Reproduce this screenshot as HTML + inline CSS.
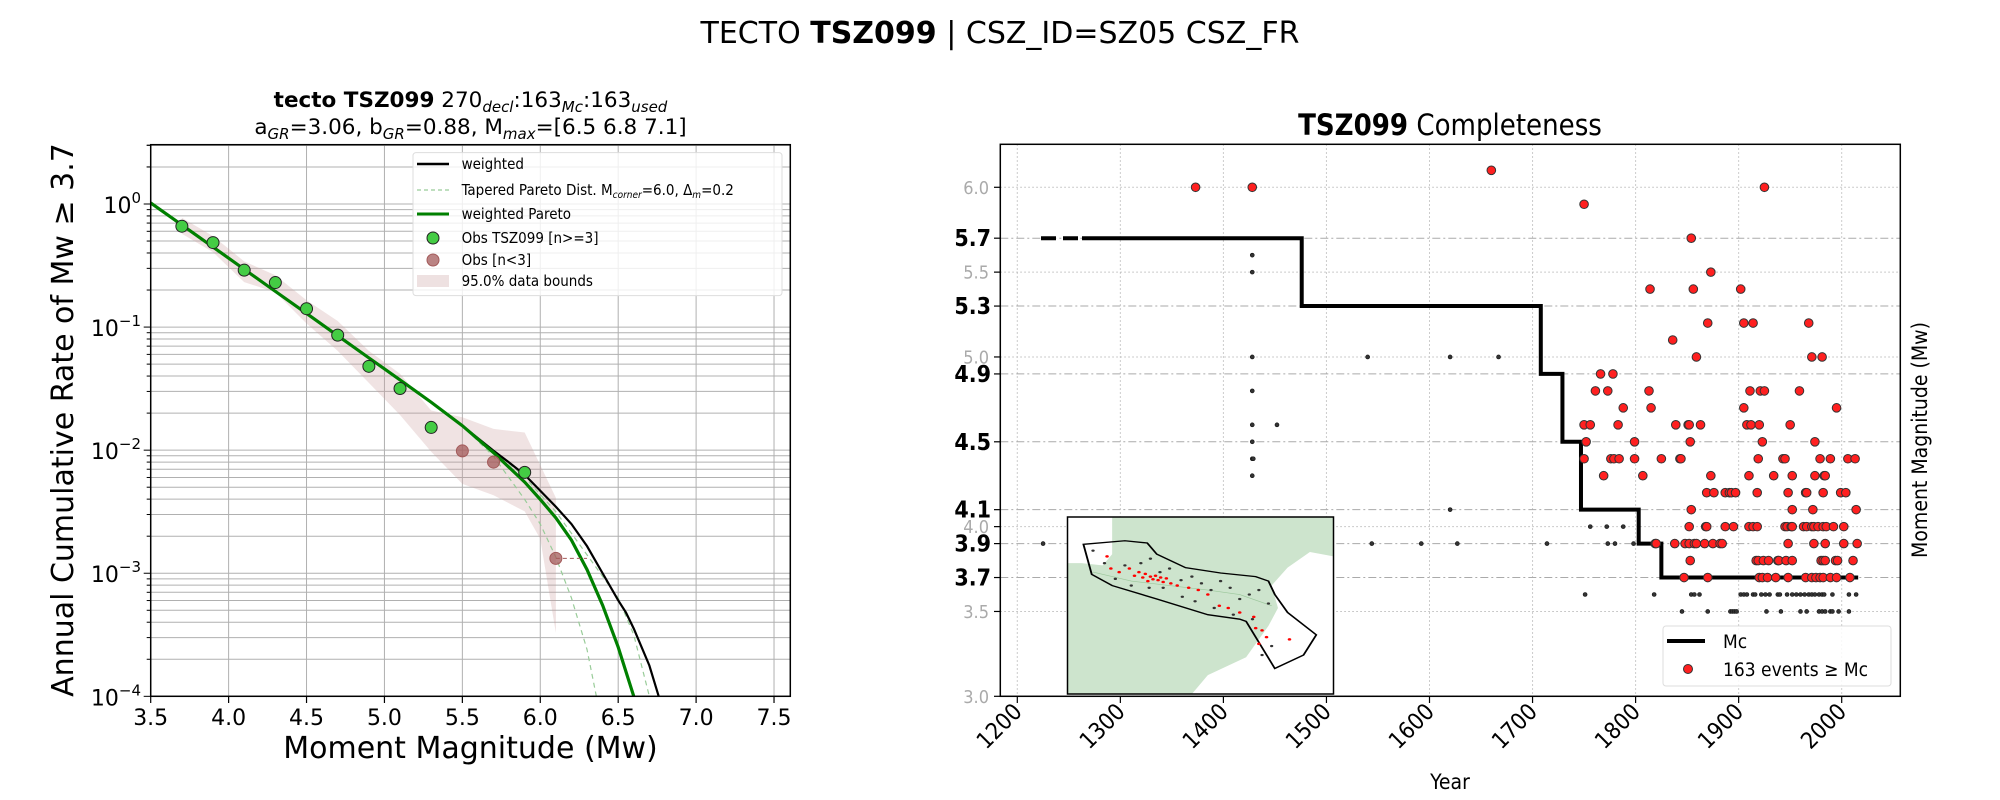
<!DOCTYPE html>
<html>
<head>
<meta charset="utf-8">
<style>
  html,body{margin:0;padding:0;background:#fff;}
  svg{display:block;font-family:"DejaVu Sans","Liberation Sans",sans-serif;}
  .cond{font-family:"DejaVu Sans Condensed","DejaVu Sans","Liberation Sans",sans-serif;}
</style>
</head>
<body>
<svg id="fig" width="2000" height="800" viewBox="0 0 2000 800" xmlns="http://www.w3.org/2000/svg">
  <defs>
    <clipPath id="clipL"><rect x="150.7" y="144.7" width="639.6" height="551.6"/></clipPath>
    <clipPath id="clipR"><rect x="1000.3" y="144.3" width="900" height="552"/></clipPath>
  </defs>
  <rect width="2000" height="800" fill="#fff"/>
  <text x="1000" y="43" font-size="30" text-anchor="middle">TECTO <tspan font-weight="bold">TSZ099</tspan> | CSZ_ID=SZ05 CSZ_FR</text>

  <!-- LEFT CHART -->
  <g id="left">
    <text x="470.5" y="107" font-size="21.5" text-anchor="middle"><tspan font-weight="bold">tecto TSZ099</tspan>  270<tspan font-size="15" font-style="italic" dy="5">decl</tspan><tspan dy="-5">:163</tspan><tspan font-size="15" font-style="italic" dy="5">Mc</tspan><tspan dy="-5">:163</tspan><tspan font-size="15" font-style="italic" dy="5">used</tspan></text>
    <text x="470.5" y="134" font-size="21.5" text-anchor="middle">a<tspan font-size="15" font-style="italic" dy="5">GR</tspan><tspan dy="-5">=3.06,  b</tspan><tspan font-size="15" font-style="italic" dy="5">GR</tspan><tspan dy="-5">=0.88, M</tspan><tspan font-size="15" font-style="italic" dy="5">max</tspan><tspan dy="-5">=[6.5 6.8 7.1]</tspan></text>
    <g id="gridL"></g>
    <g id="plotL" clip-path="url(#clipL)"></g>
    <rect x="150.7" y="144.7" width="639.6" height="551.6" fill="none" stroke="#000" stroke-width="1.5"/>
    <g id="ticksL"></g>
    <text x="470.5" y="758" font-size="30" text-anchor="middle">Moment Magnitude (Mw)</text>
    <text transform="translate(73,420) rotate(-90)" font-size="30" text-anchor="middle">Annual Cumulative Rate of Mw  ≥  3.7</text>
    <g id="legendL" class="cond">
      <rect x="413" y="152.6" width="369" height="143" fill="#fff" fill-opacity="0.8" stroke="#ddd" rx="3"/>
      <line x1="417" y1="164" x2="449" y2="164" stroke="#000" stroke-width="2.5"/>
      <text x="461.6" y="169" font-size="15">weighted</text>
      <line x1="417" y1="190" x2="449" y2="190" stroke="#99cc99" stroke-width="1.2" stroke-dasharray="4,3"/>
      <text x="461.6" y="195" font-size="15">Tapered Pareto Dist. M<tspan font-size="10" font-style="italic" dy="3">corner</tspan><tspan dy="-3">=6.0, Δ</tspan><tspan font-size="10" font-style="italic" dy="3">m</tspan><tspan dy="-3">=0.2</tspan></text>
      <line x1="417" y1="214" x2="449" y2="214" stroke="#008000" stroke-width="3"/>
      <text x="461.6" y="219" font-size="15">weighted Pareto</text>
      <circle cx="433" cy="238" r="6" fill="#44cc44" stroke="#222" stroke-width="1"/>
      <text x="461.6" y="243" font-size="15">Obs TSZ099 [n&gt;=3]</text>
      <circle cx="433" cy="260" r="6" fill="#a35a5a" fill-opacity="0.75" stroke="#a35a5a" stroke-width="1"/>
      <text x="461.6" y="265" font-size="15">Obs [n&lt;3]</text>
      <rect x="417" y="275" width="32" height="12" fill="#c89a9a" fill-opacity="0.3"/>
      <text x="461.6" y="286" font-size="15">95.0% data bounds</text>
    </g>
  </g>

  <!-- RIGHT CHART -->
  <g id="right" class="cond">
    <text x="1450" y="135" font-size="29" text-anchor="middle"><tspan font-weight="bold">TSZ099</tspan> Completeness</text>
    <g id="gridR"></g>
    <g id="plotR" clip-path="url(#clipR)"></g>
    <rect x="1000.3" y="144.3" width="900" height="552" fill="none" stroke="#000" stroke-width="1.5"/>
    <g id="ticksR"></g>
    <text x="1450" y="789" font-size="21" text-anchor="middle">Year</text>
    <text transform="translate(1927,440) rotate(-90)" font-size="21" text-anchor="middle">Moment Magnitude (Mw)</text>
    <g id="inset">
      <svg x="1067.5" y="517" width="266" height="177" viewBox="200 937 417 395" preserveAspectRatio="none">
        <rect x="200" y="937" width="417" height="395" fill="#fff"/>
        <polygon fill="#cde4cd" points="270,937 617,937 617,1025 580,1015 545,1050 520,1090 530,1140 515,1180 480,1250 420,1290 395,1332 200,1332 200,1040 222,1040 255,1045 270,1020"/>
        <polyline fill="none" stroke="#9cc79c" stroke-width="1.5" points="240,1060 300,1080 360,1090 420,1100 470,1110 520,1135"/>
        <polygon fill="none" stroke="#000" stroke-width="3" points="225,998 290,990 325,995 340,1020 385,1050 440,1062 495,1070 515,1080 525,1110 545,1150 590,1200 570,1245 525,1275 480,1170 470,1165 420,1155 340,1120 270,1090 238,1065"/>
        <g id="mapDots"></g>
      </svg>
      <rect x="1067.5" y="517" width="266" height="177" fill="none" stroke="#000" stroke-width="1.5"/>
    </g>
    <g id="legendR">
      <rect x="1663" y="626" width="228" height="60" fill="#fff" fill-opacity="0.85" stroke="#ddd" rx="3"/>
      <line x1="1667" y1="641" x2="1705" y2="641" stroke="#000" stroke-width="4"/>
      <text x="1723" y="648" font-size="19">Mc</text>
      <circle cx="1688" cy="669" r="4.5" fill="#ff2020" stroke="#333" stroke-width="1"/>
      <text x="1723" y="676" font-size="19">163 events  ≥  Mc</text>
    </g>
  </g>

<script>
// ---------- LEFT CHART DATA ----------
const obsMag = [3.7, 3.9, 4.1, 4.3, 4.5, 4.7, 4.9, 5.1, 5.3, 5.9];
const obsRate = [0.66, 0.486, 0.29, 0.23, 0.141, 0.086, 0.048, 0.0317, 0.0153, 0.0066];
const fewMag = [5.5, 5.7, 6.1];
const fewRate = [0.00986, 0.008, 0.00132];
const paretoMag = [3.5, 3.7, 3.9, 4.1, 4.3, 4.5, 4.7, 4.9, 5.1, 5.3, 5.5, 5.7, 5.9, 6.0, 6.1, 6.2, 6.3, 6.4, 6.5, 6.6];
const paretoRate = [1.02, 0.676, 0.447, 0.295, 0.195, 0.129, 0.0851, 0.0562, 0.0372, 0.0245, 0.0158, 0.00955, 0.0055, 0.00398, 0.00282, 0.00186, 0.00107, 0.00055, 0.000251, 0.0001];
const weightedMag = [3.5, 3.7, 3.9, 4.1, 4.3, 4.5, 4.7, 4.9, 5.1, 5.3, 5.5, 5.7, 5.8, 5.9, 6.0, 6.1, 6.2, 6.3, 6.4, 6.5, 6.55, 6.6, 6.7, 6.76];
const weightedRate = [1.02, 0.676, 0.447, 0.295, 0.195, 0.129, 0.0851, 0.0562, 0.0372, 0.0245, 0.0158, 0.00990, 0.00794, 0.00631, 0.00468, 0.00347, 0.00251, 0.00166, 0.001, 0.000603, 0.000479, 0.000355, 0.000178, 0.0001];
const taperAMag = [5.3, 5.5, 5.7, 5.9, 6.0, 6.1, 6.2, 6.3, 6.36];
const taperARate = [0.0245, 0.0158, 0.00891, 0.00398, 0.00251, 0.00135, 0.00063, 0.00024, 0.0001];
const taperBMag = [5.3, 5.5, 5.7, 5.9, 6.1, 6.3, 6.5, 6.6, 6.7];
const taperBRate = [0.0245, 0.0158, 0.0100, 0.00603, 0.00316, 0.00141, 0.00063, 0.000316, 0.0001];
const bandUpMag = [3.7, 3.9, 4.1, 4.3, 4.5, 4.7, 4.9, 5.1, 5.3, 5.5, 5.7, 5.9, 6.1];
const bandUpRate = [0.773, 0.548, 0.342, 0.264, 0.165, 0.112, 0.0641, 0.0418, 0.021, 0.0185, 0.0149, 0.0139, 0.00411];
const bandLoMag = [3.7, 3.9, 4.1, 4.3, 4.5, 4.7, 4.9, 5.1, 5.3, 5.5, 5.7, 5.9, 6.0, 6.1];
const bandLoRate = [0.573, 0.406, 0.232, 0.192, 0.107, 0.0641, 0.0352, 0.0193, 0.0097, 0.00532, 0.0043, 0.00318, 0.0019, 0.000327];
const xTicksL = [3.5, 4.0, 4.5, 5.0, 5.5, 6.0, 6.5, 7.0, 7.5];
const yDecadesL = [0, -1, -2, -3, -4];

// ---------- RIGHT CHART DATA ----------
const mcYears = [1223, 1476, 1708, 1729, 1747, 1803, 1825, 2016];
const mcLevels = [5.7, 5.3, 4.9, 4.5, 4.1, 3.9, 3.7];
const mcTickLabels = ["3.7", "3.9", "4.1", "4.5", "4.9", "5.3", "5.7"];
const minorTickLabels = ["3.0", "3.5", "4.0", "5.0", "5.5", "6.0"];
const yearTicks = [1200, 1300, 1400, 1500, 1600, 1700, 1800, 1900, 2000];
const eventYears = [1373,1428,1660,1925,1750,1854,1873,1814,1856,1902,1870,1905,1914,1968,1836,1859,1971,1981,1766,1778,
 1761,1773,1813,1911,1921,1925,1959,
 1788,1815,1905,1995,
 1750,1756,1783,1839,1851,1852,1863,1908,1912,1920,1950,
 1752,1799,1853,1923,1974,
 1750,1776,1779,1784,1799,1825,1843,1844,1919,1943,1945,1979,1989,2006,2013,
 1769,1807,1873,1910,1934,1952,1974,1983,1984,
 1869,1876,1887,1891,1893,1897,1918,1948,1965,1966,1982,1999,2004,
 1854,1952,1972,2014,
 1852,1868,1869,1887,1895,1910,1914,1918,1945,1947,1951,1952,1963,1966,1971,1973,1977,1982,1985,1992,2002,
 1819,1820,1838,1848,1852,1857,1859,1867,1875,1882,1884,1948,1973,1984,2002,2015,
 1853,1917,1919,1924,1929,1938,1939,1946,1952,1980,1982,1984,1994,1996,2011,
 1847,1870,1920,1923,1928,1936,1948,1965,1971,1975,1979,1982,1989,1995,2008];
const eventMags = [6.0,6.0,6.1,6.0,5.9,5.7,5.5,5.4,5.4,5.4,5.2,5.2,5.2,5.2,5.1,5.0,5.0,5.0,4.9,4.9,
 4.8,4.8,4.8,4.8,4.8,4.8,4.8,
 4.7,4.7,4.7,4.7,
 4.6,4.6,4.6,4.6,4.6,4.6,4.6,4.6,4.6,4.6,4.6,
 4.5,4.5,4.5,4.5,4.5,
 4.4,4.4,4.4,4.4,4.4,4.4,4.4,4.4,4.4,4.4,4.4,4.4,4.4,4.4,4.4,
 4.3,4.3,4.3,4.3,4.3,4.3,4.3,4.3,4.3,
 4.2,4.2,4.2,4.2,4.2,4.2,4.2,4.2,4.2,4.2,4.2,4.2,4.2,
 4.1,4.1,4.1,4.1,
 4.0,4.0,4.0,4.0,4.0,4.0,4.0,4.0,4.0,4.0,4.0,4.0,4.0,4.0,4.0,4.0,4.0,4.0,4.0,4.0,4.0,
 3.9,3.9,3.9,3.9,3.9,3.9,3.9,3.9,3.9,3.9,3.9,3.9,3.9,3.9,3.9,3.9,
 3.8,3.8,3.8,3.8,3.8,3.8,3.8,3.8,3.8,3.8,3.8,3.8,3.8,3.8,3.8,
 3.7,3.7,3.7,3.7,3.7,3.7,3.7,3.7,3.7,3.7,3.7,3.7,3.7,3.7,3.7];
const belowYears = [1428,1428,1428,1428,1428,1428,1428,1429,1428,1452,1540,1620,1667,1620,
 1225,1544,1592,1627,1714,1773,1780,1798,1756,1772,1788,
 1751,1818,1854,1857,1862,1902,1905,1908,1914,1916,1922,1926,1930,1938,1940,1947,1952,1956,1960,1964,1968,1971,1974,1978,1981,1983,1991,2007,2014,
 1845,1870,1892,1894,1896,1898,1927,1941,1960,1966,1978,1981,1984,1989,1991,1997,2007];
const belowMags = [5.6,5.5,5.0,4.8,4.6,4.5,4.4,4.4,4.3,4.6,5.0,5.0,5.0,4.1,
 3.9,3.9,3.9,3.9,3.9,3.9,3.9,3.9,4.0,4.0,4.0,
 3.6,3.6,3.6,3.6,3.6,3.6,3.6,3.6,3.6,3.6,3.6,3.6,3.6,3.6,3.6,3.6,3.6,3.6,3.6,3.6,3.6,3.6,3.6,3.6,3.6,3.6,3.6,3.6,3.6,
 3.5,3.5,3.5,3.5,3.5,3.5,3.5,3.5,3.5,3.5,3.5,3.5,3.5,3.5,3.5,3.5,3.5];

const mapRedX = [262,268,281,297,305,312,318,322,326,330,334,338,342,346,350,355,362,372,390,405,420,438,452,470,492,505,512,495,500,548];
const mapRedY = [1025,1052,1060,1052,1068,1060,1072,1064,1080,1070,1076,1068,1078,1072,1082,1074,1085,1090,1095,1100,1110,1135,1140,1150,1160,1190,1205,1185,1220,1210];
const mapBlackX = [240,258,275,290,300,315,328,345,360,378,395,410,425,440,455,470,485,500,515,520,380,400,430,460,490,505,350,330];
const mapBlackY = [1012,1040,1075,1045,1090,1040,1095,1060,1052,1078,1070,1085,1100,1080,1095,1120,1110,1100,1130,1225,1115,1125,1140,1155,1165,1245,1095,1030];

const NS = "http://www.w3.org/2000/svg";
function mk(tag, attrs, parent) {
  const e = document.createElementNS(NS, tag);
  for (const k in attrs) e.setAttribute(k, attrs[k]);
  parent.appendChild(e);
  return e;
}
const xL = m => 150.7 + (m - 3.5) * 155.83;
const yL = r => 204 - Math.log10(r) * 123.08;
const xR = yr => 1017.3 + (yr - 1200) * 1.0305;
const yR = m => 696.3 - (m - 3) * 169.67;

// ---- left grid & ticks
const gridL = document.getElementById('gridL');
const ticksL = document.getElementById('ticksL');
xTicksL.forEach(v => {
  const l = mk('line', {x1: xL(v), x2: xL(v), y1: 144.7, y2: 696.3, stroke: '#b0b0b0', 'stroke-width': 1}, gridL);
  
  
  mk('line', {x1: xL(v), x2: xL(v), y1: 696.3, y2: 703, stroke: '#000', 'stroke-width': 1.2}, ticksL);
  const t = mk('text', {x: xL(v), y: 725, 'font-size': 22, 'text-anchor': 'middle'}, ticksL);
  t.textContent = v.toFixed(1);
  
  
});
for (let d = -4; d <= 0; d++) {
  for (let k = 1; k <= 9; k++) {
    const v = k * Math.pow(10, d);
    const y = yL(v);
    if (y < 144.7) continue;
    mk('line', {x1: 150.7, x2: 790.3, y1: y, y2: y, stroke: '#b0b0b0', 'stroke-width': 1}, gridL);
    mk('line', {x1: 150.7, x2: 150.7 - (k === 1 ? 7 : 4), y1: y, y2: y, stroke: '#000', 'stroke-width': 1}, ticksL);
  }
}
[2, 3].forEach(k => {
  const y = yL(k);
  if (y >= 144.7) {
    mk('line', {x1: 150.7, x2: 790.3, y1: y, y2: y, stroke: '#b0b0b0', 'stroke-width': 1}, gridL);
    mk('line', {x1: 150.7, x2: 146.7, y1: y, y2: y, stroke: '#000', 'stroke-width': 1}, ticksL);
  }
});
yDecadesL.forEach(d => {
  const t = mk('text', {x: 141, y: yL(Math.pow(10, d)) + 9, 'font-size': 22, 'text-anchor': 'end'}, ticksL);
  
  
  const a = mk('tspan', {}, t);
  a.textContent = '10';
  const b = mk('tspan', {'font-size': 15, dy: -10}, t);
  b.textContent = d === 0 ? '0' : '\u2212' + (-d);
});

// ---- left series
const plotL = document.getElementById('plotL');
const band = mk('polygon', {
  points: bandUpMag.map((m, i) => xL(m) + ',' + yL(bandUpRate[i])).concat(
    bandLoMag.slice().reverse().map((m, i) => xL(m) + ',' + yL(bandLoRate[bandLoMag.length - 1 - i]))).join(' '),
  fill: '#c89a9a', 'fill-opacity': 0.28, stroke: 'none'}, plotL);


function line(ms, rs, attrs, name) {
  const p = mk('polyline', Object.assign({points: ms.map((m, i) => xL(m) + ',' + yL(rs[i])).join(' '), fill: 'none'}, attrs), plotL);
  
  
}
line(taperAMag, taperARate, {stroke: '#99cc99', 'stroke-width': 1.2, 'stroke-dasharray': '5,4'}, 'tapered-pareto-lower');
line(taperBMag, taperBRate, {stroke: '#99cc99', 'stroke-width': 1.2, 'stroke-dasharray': '5,4'}, 'tapered-pareto-upper');
line(weightedMag, weightedRate, {stroke: '#000', 'stroke-width': 2.2}, 'weighted-curve');
line(paretoMag, paretoRate, {stroke: '#008000', 'stroke-width': 3.2}, 'weighted-pareto-curve');
const dl = mk('line', {x1: xL(fewMag[2]), x2: xL(fewMag[2] + 0.2), y1: yL(fewRate[2]), y2: yL(fewRate[2]), stroke: '#a35a5a', 'stroke-width': 1, 'stroke-dasharray': '4,3'}, plotL);


obsMag.forEach((m, i) => {
  const c = mk('circle', {cx: xL(m), cy: yL(obsRate[i]), r: 6, fill: '#44cc44', stroke: '#222', 'stroke-width': 1}, plotL);
  
  
});
fewMag.forEach((m, i) => {
  const c = mk('circle', {cx: xL(m), cy: yL(fewRate[i]), r: 6, fill: '#a35a5a', 'fill-opacity': 0.75, stroke: '#a35a5a', 'stroke-width': 1}, plotL);
  
  
});

// ---- right grid & ticks
const gridR = document.getElementById('gridR');
const ticksR = document.getElementById('ticksR');
yearTicks.forEach(v => {
  const g = mk('line', {x1: xR(v), x2: xR(v), y1: 144.3, y2: 696.3, stroke: '#bbb', 'stroke-width': 1, 'stroke-dasharray': '1.5,2.5'}, gridR);
  
  
  mk('line', {x1: xR(v), x2: xR(v), y1: 696.3, y2: 703, stroke: '#000', 'stroke-width': 1.2}, ticksR);
  const t = mk('text', {x: xR(v) + 6, y: 713, 'font-size': 23, 'text-anchor': 'end', transform: 'rotate(-45 ' + (xR(v) + 6) + ' 713)'}, ticksR);
  t.textContent = String(v);
  
  
});
minorTickLabels.forEach(s => {
  const v = parseFloat(s);
  const g = mk('line', {x1: 1000.3, x2: 1900.3, y1: yR(v), y2: yR(v), stroke: '#bbb', 'stroke-width': 1, 'stroke-dasharray': '1.5,2.5'}, gridR);
  
  
  mk('line', {x1: 1000.3, x2: 994, y1: yR(v), y2: yR(v), stroke: '#000', 'stroke-width': 1.2}, ticksR);
  const t = mk('text', {x: 989, y: yR(v) + 6.5, 'font-size': 18, 'text-anchor': 'end', fill: '#aaa'}, ticksR);
  t.textContent = s;
  
  
});
mcTickLabels.forEach(s => {
  const v = parseFloat(s);
  const g = mk('line', {x1: 1000.3, x2: 1900.3, y1: yR(v), y2: yR(v), stroke: '#aaa', 'stroke-width': 1, 'stroke-dasharray': '8,3,2,3'}, gridR);
  
  
  mk('line', {x1: 1000.3, x2: 994, y1: yR(v), y2: yR(v), stroke: '#000', 'stroke-width': 1.2}, ticksR);
  const t = mk('text', {x: 991, y: yR(v) + 8, 'font-size': 23, 'font-weight': 'bold', 'text-anchor': 'end'}, ticksR);
  t.textContent = s;
  
  
});

// ---- right series
const plotR = document.getElementById('plotR');
belowYears.forEach((yr, i) => {
  const c = mk('circle', {cx: xR(yr), cy: yR(belowMags[i]), r: 2, fill: '#333', stroke: '#111', 'stroke-width': 0.6}, plotR);
  
  
});
let pts = [];
mcLevels.forEach((lv, i) => {
  pts.push(xR(mcYears[i]) + ',' + yR(lv));
  pts.push(xR(mcYears[i + 1]) + ',' + yR(lv));
});
const mc = mk('polyline', {points: pts.join(' '), fill: 'none', stroke: '#000', 'stroke-width': 4, 'stroke-dasharray': '15,7,15,4,2000'}, plotR);


eventYears.forEach((yr, i) => {
  const c = mk('circle', {cx: xR(yr), cy: yR(eventMags[i]), r: 4.3, fill: '#ff2020', stroke: '#333', 'stroke-width': 1}, plotR);
  
  
});
const md = document.getElementById('mapDots');
mapBlackX.forEach((x, i) => {
  const c = mk('circle', {cx: x, cy: mapBlackY[i], r: 2.6, fill: '#333'}, md);
  
  
});
mapRedX.forEach((x, i) => {
  const c = mk('circle', {cx: x, cy: mapRedY[i], r: 2.8, fill: '#f00'}, md);
  
  
});
</script>
</svg>
</body>
</html>
